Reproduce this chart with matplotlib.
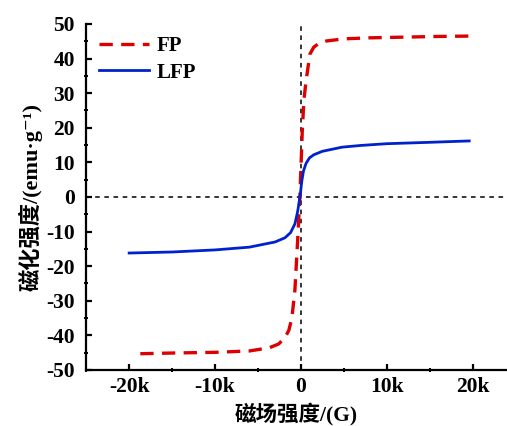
import matplotlib.pyplot as plt
from matplotlib.ticker import MultipleLocator, FuncFormatter

# FP 与 LFP 的磁滞回线数据
fp_field = [-18700, -15000, -10000, -6000, -3700, -2600, -1860, -1400, -1050, -700,
            -380, -120, 160, 350, 600, 1050, 1500, 2100, 3000, 5000,
            8000, 12000, 16000, 19500]
fp_mag = [-45.3, -45.1, -44.9, -44.5, -43.6, -42.5, -40.7, -38.5, -35.0, -27.0,
          -12.7, 0.0, 19.0, 28.0, 33.5, 41.3, 43.3, 44.4, 45.1, 45.7,
          46.0, 46.2, 46.4, 46.5]

lfp_field = [-20000, -15000, -10000, -6000, -4200, -3000, -1860, -1200, -700, -400,
             -100, 100, 300, 600, 1000, 1500, 2500, 4800, 7000, 10000,
             15000, 19600]
lfp_mag = [-16.2, -15.9, -15.3, -14.5, -13.6, -13.0, -11.8, -10.3, -7.8, -4.5,
           0.0, 4.5, 7.5, 9.7, 11.3, 12.2, 13.2, 14.4, 14.9, 15.4,
           15.8, 16.2]

x_ticks = [-20000, -10000, 0, 10000, 20000]
y_ticks = [-50, -40, -30, -20, -10, 0, 10, 20, 30, 40, 50]

fonts = ['Liberation Serif', 'Noto Sans CJK SC', 'DejaVu Serif']
plt.rcParams['font.family'] = fonts
plt.rcParams['font.weight'] = 'bold'
plt.rcParams['axes.labelweight'] = 'bold'
plt.rcParams['axes.unicode_minus'] = False
plt.rcParams['axes.linewidth'] = 1.6

fig = plt.figure(figsize=(5.07, 4.26), dpi=100)
ax = fig.add_axes([0.170, 0.1315, 0.830, 0.8122])

ax.plot(fp_field, fp_mag, color='#dd0000', linewidth=2.4, dashes=(4, 2.5), label='FP')
ax.plot(lfp_field, lfp_mag, color='#0022cc', linewidth=2.0, label='LFP')

ax.axhline(0, color='black', linewidth=1.1, dashes=(3, 3), zorder=0)
ax.axvline(0, color='black', linewidth=1.1, dashes=(3, 3), zorder=0)

ax.set_xlim(-25000, 24000)
ax.set_ylim(-50, 50)
ax.set_xticks(x_ticks)
ax.set_yticks(y_ticks)
ax.xaxis.set_minor_locator(MultipleLocator(5000))
ax.yaxis.set_minor_locator(MultipleLocator(5))
ax.xaxis.set_major_formatter(FuncFormatter(lambda v, p: '0' if v == 0 else f'{int(v / 1000)}k'))

ax.spines['top'].set_visible(False)
ax.spines['right'].set_visible(False)
# Origin 风格: 主刻度朝内, 次刻度短
ax.tick_params(which='major', direction='in', length=4, width=1.6, labelsize=15.5)
ax.tick_params(axis='x', which='major', pad=5)
ax.tick_params(axis='y', which='major', pad=8)
ax.tick_params(which='minor', direction='inout', length=3, width=1.4)

ax.set_xlabel('磁场强度/(G)', fontsize=15.5)
ax.xaxis.set_label_coords(0.5, -0.093)
ax.set_ylabel('磁化强度/(emu·g⁻¹)', fontsize=16, labelpad=3)

ax.legend(loc='upper left', frameon=False, fontsize=15, handlelength=2.4,
          borderaxespad=0.2, labelspacing=0.3, handletextpad=0.4)

fig.savefig('out.png', dpi=100)
